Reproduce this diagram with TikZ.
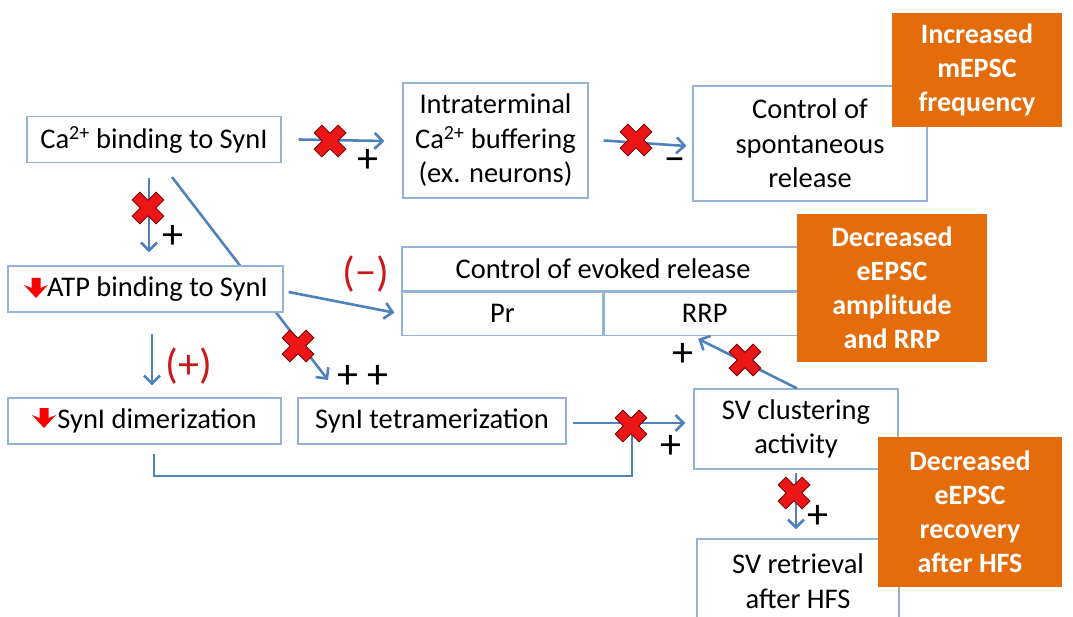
\documentclass[tikz,border=0pt]{standalone}
\usepackage{fontspec}
\setmainfont{Carlito}
\usepackage{tikz}
\usetikzlibrary{arrows.meta,positioning,backgrounds}
\definecolor{boxline}{RGB}{149,179,215}
\definecolor{linkblue}{RGB}{79,129,189}
\definecolor{effectorange}{RGB}{228,108,10}
\definecolor{crossred}{RGB}{236,22,22}
\definecolor{crossdark}{RGB}{120,10,10}
\definecolor{signred}{RGB}{204,24,24}

\begin{document}
\begin{tikzpicture}[
		x=1pt, y=-1pt,
		box/.style={draw=boxline, line width=1.2pt, fill=white, inner sep=0pt, align=center,
			font=\fontsize{28.5}{34.5}\selectfont},
		effect/.style={fill=effectorange, text=white, inner sep=0pt, align=center,
			font=\bfseries\fontsize{28}{34}\selectfont},
		link/.style={draw=linkblue, line width=2.6pt, -{Straight Barb[length=8pt,width=16pt]}},
		sign/.style={inner sep=0pt, font=\fontsize{42}{42}\selectfont},
		block/.pic={% red cross on an arrow
			\filldraw[fill=crossred, draw=crossdark, line width=0.8pt, rotate=45]
			(-5.5,-17) -- (5.5,-17) -- (5.5,-5.5) -- (17,-5.5) -- (17,5.5) -- (5.5,5.5) -- (5.5,17)
			-- (-5.5,17) -- (-5.5,5.5) -- (-17,5.5) -- (-17,-5.5) -- (-5.5,-5.5) -- cycle;
		},
		down/.pic={% red arrow in front of a text
			\fill[red] (-4.5,-10) -- (4.5,-10) -- (4.5,0) -- (12,-3) -- (0,10) -- (-12,-3) -- (-4.5,0) -- cycle;
		}
		]
		\useasboundingbox (0,0) rectangle (1073,617);
		
		% Les cases
		\node[box, minimum width=254pt, minimum height=46pt] (ca) at (154,139.5) {Ca\textsuperscript{2+} binding to SynI};
		\node[box, minimum width=185pt, minimum height=115pt] (buf) at (495.5,140.5) {Intraterminal\\Ca\textsuperscript{2+} buffering\\(ex. neurons)};
		\node[box, minimum width=234pt, minimum height=115pt] (spont) at (810,143.5) {Control of\\spontaneous\\release};
		\node[box, minimum width=275pt, minimum height=46pt] (atp) at (145.5,289) {\hspace*{24pt}ATP binding to SynI};
		\node[box, minimum width=402pt, minimum height=44pt] (evoked) at (603,269) {Control of evoked release};
		\node[box, minimum width=201pt, minimum height=43pt, anchor=north west] (pr) at (evoked.south west) {Pr};
		\node[box, minimum width=201pt, minimum height=43pt, right=0pt of pr] (rrp) {RRP};
		\node[box, minimum width=273pt, minimum height=46pt] (dimer) at (144.5,421) {\hspace*{25pt}SynI dimerization};
		\node[box, minimum width=268pt, minimum height=46pt] (tetra) at (432,421) {SynI tetramerization};
		\node[box, minimum width=204pt, minimum height=80pt] (clus) at (796,429) {SV clustering\\activity};
		\node[box, minimum width=202pt, minimum height=84pt] (retr) at (798,581) {SV retrieval\\after HFS};
		
		\pic at (36,288) {down};
		\pic at (44,418) {down};
		
		% fleche derriere la case ATP
		\coordinate (tt) at (328,380);
		\begin{scope}[on background layer]
			\draw[link] ([xshift=18pt,yshift=-14pt]ca.south) -- (tt);
		\end{scope}
		
		% Les fleches
		\draw[link] ([xshift=17pt]ca.east) -- ([xshift=-18pt,yshift=-0.5pt]buf.west);
		\draw[link] ([xshift=15pt]buf.east) -- ([xshift=-6pt,yshift=-2.5pt]spont.west);
		\draw[link] ([xshift=-5pt,yshift=-15pt]ca.south) -- ([xshift=3.5pt,yshift=13pt]atp.north);
		\draw[link] ([xshift=5pt,yshift=-3pt]atp.east) -- ([xshift=-7pt,yshift=1pt]pr.west);
		\draw[link] ([xshift=6.5pt,yshift=-21pt]atp.south) -- ([xshift=7.5pt,yshift=12pt]dimer.north);
		\draw[link] ([xshift=6pt,yshift=-2pt]tetra.east) -- ([xshift=-8pt,yshift=6pt]clus.west);
		\coordinate (jn) at (632,423);
		\coordinate (db) at (154,476);
		\draw[draw=linkblue, line width=2.6pt] ([xshift=9.5pt,yshift=-9pt]dimer.south) -- (db) -| (jn);
		\draw[link] ([xshift=1pt]clus.north) -- ([xshift=-6.5pt,yshift=-3pt]rrp.south);
		\draw[link] ([yshift=-3pt]clus.south) -- ([xshift=-2pt,yshift=9pt]retr.north);
		
		% Les blocages
		\pic at (330,141) {block};
		\pic at (636,140) {block};
		\pic at (148,208) {block};
		\pic at (298,346) {block};
		\pic at (745,360) {block};
		\pic at (631,426) {block};
		\pic at (794,493) {block};
		
		% Les signes
		\node[sign] (s1) at (368,161) {+};
		\node[sign] (s2) at (675,165) {−};
		\node[sign] (s3) at (173,237) {+};
		\node[sign] (s4) at (363,377) {+ +};
		\node[sign] (s5) at (683,355) {+};
		\node[sign] (s6) at (671,447) {+};
		\node[sign] (s7) at (818,517) {+};
		\node[sign, text=signred] (s8) at (366,274) {(−)};
		\node[sign, text=signred] (s9) at (189,366) {(+)};
		
		% Les effets
		\node[effect, minimum width=170pt, minimum height=114pt] (eff1) at (977,70) {Increased\\mEPSC\\frequency};
		\node[effect, minimum width=190pt, minimum height=148pt] (eff2) at (892,288) {Decreased\\eEPSC\\amplitude\\and RRP};
		\node[effect, minimum width=184pt, minimum height=150pt] (eff3) at (970,512) {Decreased\\eEPSC\\recovery\\after HFS};
	\end{tikzpicture}
\end{document}
